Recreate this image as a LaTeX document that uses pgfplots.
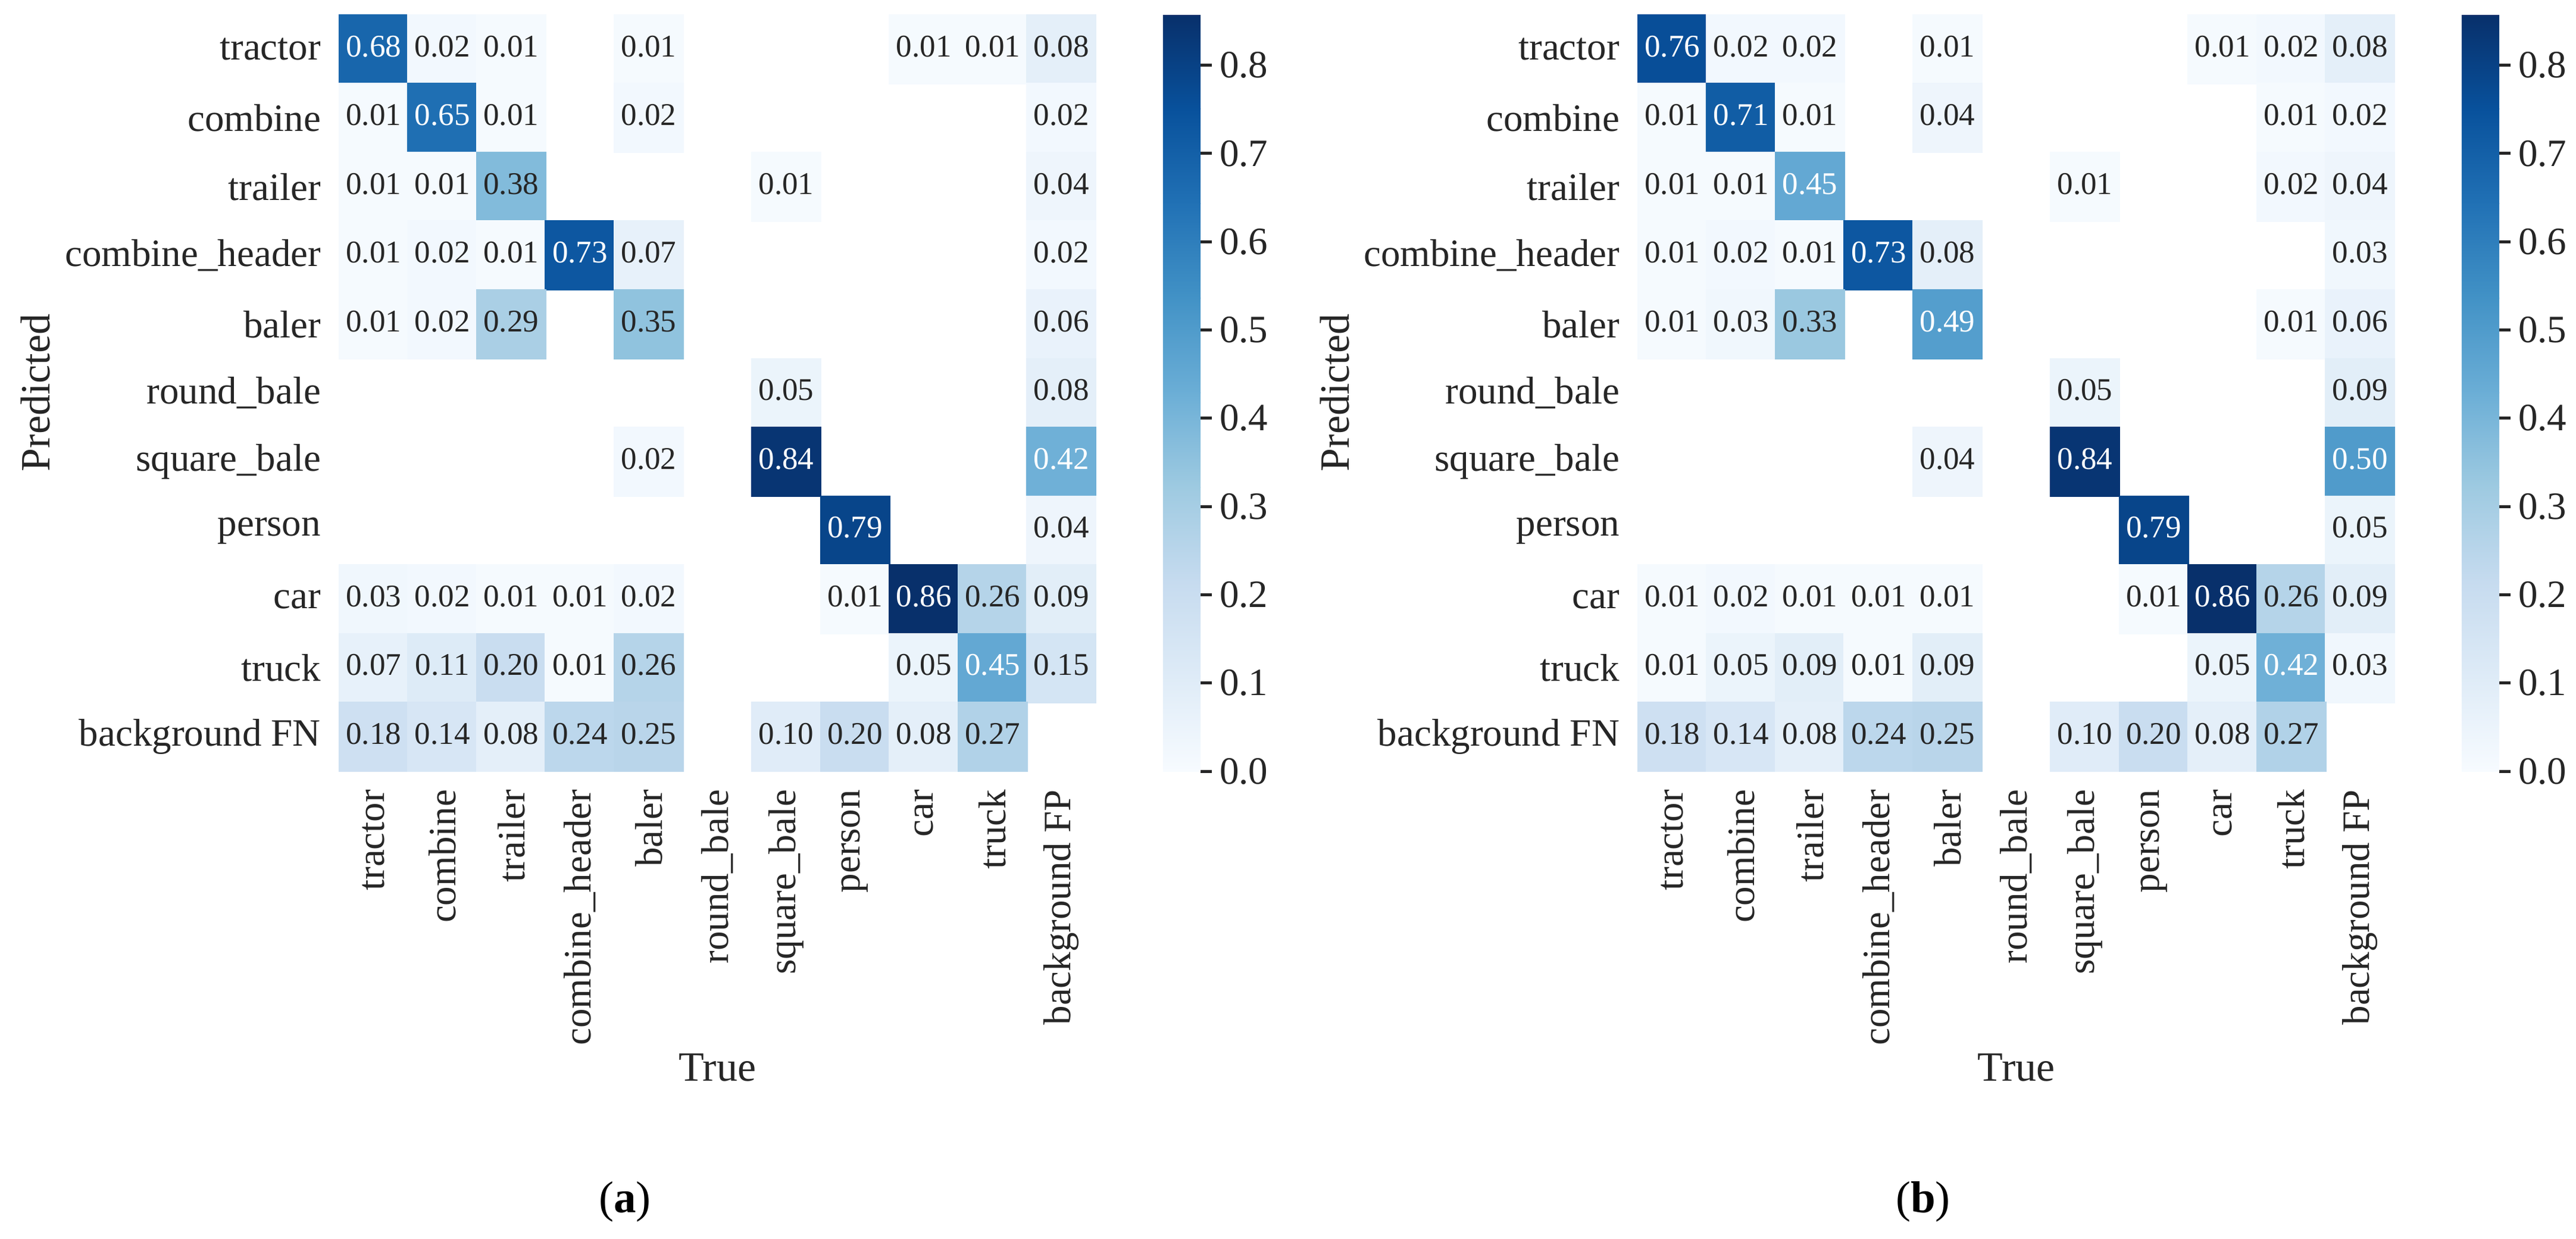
\documentclass[border=0pt]{standalone}
\usepackage{fontspec}
\setmainfont{Liberation Serif}
\usepackage{pgfplots}
\usepackage{pgfplotstable}
\pgfplotsset{compat=1.18}

\definecolor{ink}{HTML}{262626}
% matplotlib "Blues"
\definecolor{b0}{RGB}{247,251,255}
\definecolor{b1}{RGB}{222,235,247}
\definecolor{b2}{RGB}{198,219,239}
\definecolor{b3}{RGB}{158,202,225}
\definecolor{b4}{RGB}{107,174,214}
\definecolor{b5}{RGB}{66,146,198}
\definecolor{b6}{RGB}{33,113,181}
\definecolor{b7}{RGB}{8,81,156}
\definecolor{b8}{RGB}{8,48,107}

% x = true class, y = predicted class (0 tractor ... 10 background), v = share
\pgfplotstableread{
x y v
0 0 0.68
1 0 0.02
2 0 0.01
4 0 0.01
8 0 0.01
9 0 0.01
10 0 0.08
0 1 0.01
1 1 0.65
2 1 0.01
4 1 0.02
10 1 0.02
0 2 0.01
1 2 0.01
2 2 0.38
6 2 0.01
10 2 0.04
0 3 0.01
1 3 0.02
2 3 0.01
3 3 0.73
4 3 0.07
10 3 0.02
0 4 0.01
1 4 0.02
2 4 0.29
4 4 0.35
10 4 0.06
6 5 0.05
10 5 0.08
4 6 0.02
6 6 0.84
10 6 0.42
7 7 0.79
10 7 0.04
0 8 0.03
1 8 0.02
2 8 0.01
3 8 0.01
4 8 0.02
7 8 0.01
8 8 0.86
9 8 0.26
10 8 0.09
0 9 0.07
1 9 0.11
2 9 0.20
3 9 0.01
4 9 0.26
8 9 0.05
9 9 0.45
10 9 0.15
0 10 0.18
1 10 0.14
2 10 0.08
3 10 0.24
4 10 0.25
6 10 0.10
7 10 0.20
8 10 0.08
9 10 0.27
}\cmA

\pgfplotstableread{
x y v
0 0 0.76
1 0 0.02
2 0 0.02
4 0 0.01
8 0 0.01
9 0 0.02
10 0 0.08
0 1 0.01
1 1 0.71
2 1 0.01
4 1 0.04
9 1 0.01
10 1 0.02
0 2 0.01
1 2 0.01
2 2 0.45
6 2 0.01
9 2 0.02
10 2 0.04
0 3 0.01
1 3 0.02
2 3 0.01
3 3 0.73
4 3 0.08
10 3 0.03
0 4 0.01
1 4 0.03
2 4 0.33
4 4 0.49
9 4 0.01
10 4 0.06
6 5 0.05
10 5 0.09
4 6 0.04
6 6 0.84
10 6 0.50
7 7 0.79
10 7 0.05
0 8 0.01
1 8 0.02
2 8 0.01
3 8 0.01
4 8 0.01
7 8 0.01
8 8 0.86
9 8 0.26
10 8 0.09
0 9 0.01
1 9 0.05
2 9 0.09
3 9 0.01
4 9 0.09
8 9 0.05
9 9 0.42
10 9 0.03
0 10 0.18
1 10 0.14
2 10 0.08
3 10 0.24
4 10 0.25
6 10 0.10
7 10 0.20
8 10 0.08
9 10 0.27
}\cmB

\pgfkeys{/pgf/number format/assume math mode=true}

\pgfplotsset{
  cm/.style={
    at={#1}, anchor=north west,
    scale only axis, width=254.2pt, height=254.2pt,
    colormap={blues}{color=(b0) color=(b1) color=(b2) color=(b3) color=(b4)
      color=(b5) color=(b6) color=(b7) color=(b8)},
    point meta min=0, point meta max=0.857,
    xmin=-0.5, xmax=10.5, ymin=-0.5, ymax=10.5, y dir=reverse,
    axis line style={draw=none}, major tick length=0pt,
    xtick={0,...,10}, ytick={0,...,10},
    xticklabels={tractor,combine,trailer,combine\_header,baler,round\_bale,square\_bale,person,car,truck,background FP},
    yticklabels={tractor,combine,trailer,combine\_header,baler,round\_bale,square\_bale,person,car,truck,background FN},
    tick label style={font=\fontsize{13}{15}\selectfont, text=ink, inner sep=0pt},
    xticklabel style={rotate=90, anchor=east},
    yticklabel style={anchor=east},
    xticklabel shift=6pt, yticklabel shift=6pt,
    clip=false,
  },
  % hand-made colour bar: 0 ... 0.857, ticks on the right
  cbar/.style={
    at={#1}, anchor=north west,
    scale only axis, width=12.6pt, height=254.2pt,
    xmin=0, xmax=1, ymin=0, ymax=0.857,
    axis line style={draw=none}, xtick=\empty,
    ytick={0,0.1,0.2,0.3,0.4,0.5,0.6,0.7,0.8},
    ytick pos=right, yticklabel pos=right,
    major tick length=3.8pt, tick align=outside,
    ytick style={draw=ink, line width=1pt},
    yticklabel style={font=\fontsize{13}{15}\selectfont, text=ink, inner sep=0pt,
      /pgf/number format/fixed, /pgf/number format/fixed zerofill,
      /pgf/number format/precision=1, /pgf/number format/assume math mode=true},
    yticklabel shift=2.4pt,
    clip=false,
  },
  cells/.style={scatter, only marks, mark=square*, mark size=11.6pt,
    scatter/use mapped color={draw=mapped color, fill=mapped color},
    point meta=explicit},
  vals/.style={only marks, mark=none, point meta=explicit symbolic,
    nodes near coords,
    nodes near coords style={anchor=center, yshift=1pt, text=#1,
      font=\fontsize{10.6}{12}\selectfont}},
}

\newcommand\cbarfill{%
  \shade[bottom color=b0, top color=b1] (rel axis cs:0,0.000) rectangle (rel axis cs:1,0.126);
  \shade[bottom color=b1, top color=b2] (rel axis cs:0,0.125) rectangle (rel axis cs:1,0.251);
  \shade[bottom color=b2, top color=b3] (rel axis cs:0,0.250) rectangle (rel axis cs:1,0.376);
  \shade[bottom color=b3, top color=b4] (rel axis cs:0,0.375) rectangle (rel axis cs:1,0.501);
  \shade[bottom color=b4, top color=b5] (rel axis cs:0,0.500) rectangle (rel axis cs:1,0.626);
  \shade[bottom color=b5, top color=b6] (rel axis cs:0,0.625) rectangle (rel axis cs:1,0.751);
  \shade[bottom color=b6, top color=b7] (rel axis cs:0,0.750) rectangle (rel axis cs:1,0.876);
  \shade[bottom color=b7, top color=b8] (rel axis cs:0,0.875) rectangle (rel axis cs:1,1.000);
}

\begin{document}
\begin{tikzpicture}
\useasboundingbox (0,0) rectangle (865.6pt,-416.2pt);

\begin{axis}[cm={(114pt,-5pt)}]
  \addplot[cells] table[x=x, y=y, meta=v] {\cmA};
  \addplot[vals=ink, restrict expr to domain={\thisrow{v}}{0:0.4}] table[x=x, y=y, meta=v] {\cmA};
  \addplot[vals=white, restrict expr to domain={\thisrow{v}}{0.4:1}] table[x=x, y=y, meta=v] {\cmA};
\end{axis}
\begin{axis}[cbar={(390.8pt,-5pt)}]
  \cbarfill
\end{axis}

\begin{axis}[cm={(550.4pt,-5pt)}]
  \addplot[cells] table[x=x, y=y, meta=v] {\cmB};
  \addplot[vals=ink, restrict expr to domain={\thisrow{v}}{0:0.4}] table[x=x, y=y, meta=v] {\cmB};
  \addplot[vals=white, restrict expr to domain={\thisrow{v}}{0.4:1}] table[x=x, y=y, meta=v] {\cmB};
\end{axis}
\begin{axis}[cbar={(827.2pt,-5pt)}]
  \cbarfill
\end{axis}

\tikzset{lab/.style={font=\fontsize{14}{16}\selectfont, text=ink}}
\node[lab, rotate=90, anchor=base] at (16.8pt,-132pt) {Predicted};
\node[lab, rotate=90, anchor=base] at (453.2pt,-132pt) {Predicted};
\node[lab, anchor=base] at (241.1pt,-363.2pt) {True};
\node[lab, anchor=base] at (677.5pt,-363.2pt) {True};
\node[font=\fontsize{15}{17}\selectfont, anchor=base] at (210pt,-407.4pt) {(\textbf{a})};
\node[font=\fontsize{15}{17}\selectfont, anchor=base] at (646.2pt,-407.4pt) {(\textbf{b})};
\end{tikzpicture}
\end{document}
